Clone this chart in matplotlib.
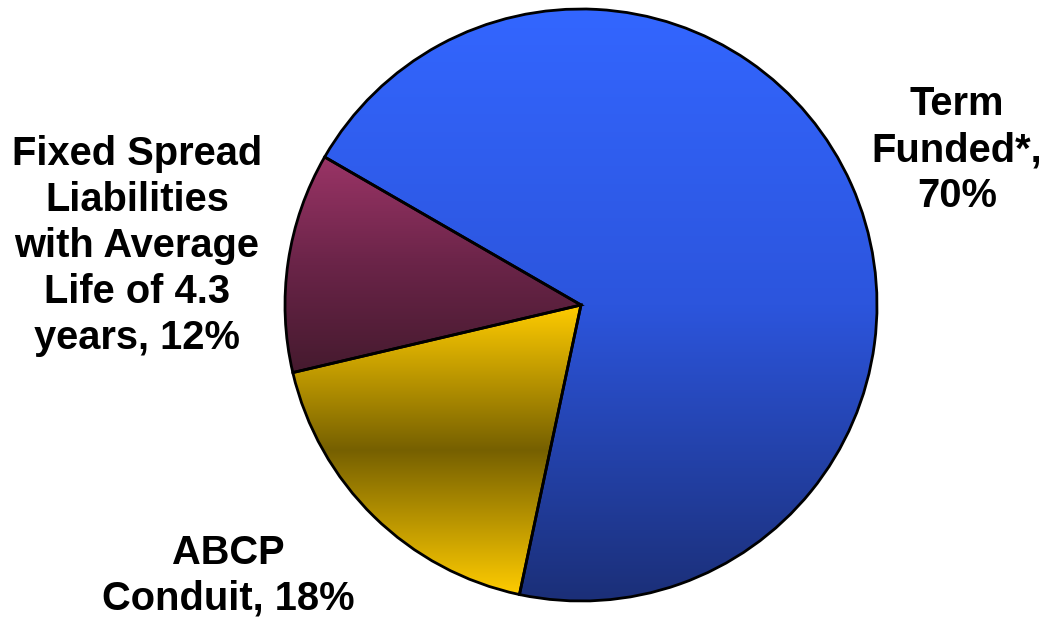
import numpy as np
import matplotlib
matplotlib.use("Agg")
import matplotlib.pyplot as plt
from matplotlib.colors import LinearSegmentedColormap

labels = ["Fixed Spread\nLiabilities\nwith Average\nLife of 4.3\nyears, 12%",
          "ABCP\nConduit, 18%",
          "Term\nFunded*,\n70%"]
values = [12, 18, 70]
gradients = [
    ["#9a3466", "#6a2448", "#451a2e"],
    ["#ffcc00", "#766000", "#ffcc00"],
    ["#3366ff", "#2c55dd", "#1b2f78"],
]

W, H = 1047, 620
fig = plt.figure(figsize=(W / 100, H / 100), dpi=100)
cx, cy, R = 581, 620 - 305, 296
half = 300
ax = fig.add_axes([(cx - half) / W, (cy - half) / H, 2 * half / W, 2 * half / H])
ax.set_xlim(-1, 1)
ax.set_ylim(-1, 1)
ax.set_aspect("equal")
ax.axis("off")

wedges, _ = ax.pie(values, startangle=150, counterclock=True, radius=R / half,
                   wedgeprops=dict(edgecolor="black", linewidth=2.0, facecolor="none"),
                   frame=False)

for w, cols in zip(wedges, gradients):
    path = w.get_path()
    bb = path.get_extents(w.get_transform() - ax.transData)
    cmap = LinearSegmentedColormap.from_list("g", cols)
    grad = np.linspace(1, 0, 256).reshape(-1, 1)
    im = ax.imshow(grad, cmap=cmap, extent=[bb.x0, bb.x1, bb.y0, bb.y1],
                   aspect="auto", origin="lower", zorder=0.5, interpolation="bilinear")
    im.set_clip_path(w)
    w.set_zorder(1)

ax.set_xlim(-1, 1)
ax.set_ylim(-1, 1)

font = dict(family=["Liberation Sans", "DejaVu Sans"], fontweight="bold", fontsize=28.7,
            ha="center", va="center", linespacing=1.26, color="black")
pos = [(137, 246), (228, 576), (957, 150)]
for lab, (x, y) in zip(labels, pos):
    fig.text(x / W, 1 - y / H, lab, **font)

fig.savefig("out.png", dpi=100)
